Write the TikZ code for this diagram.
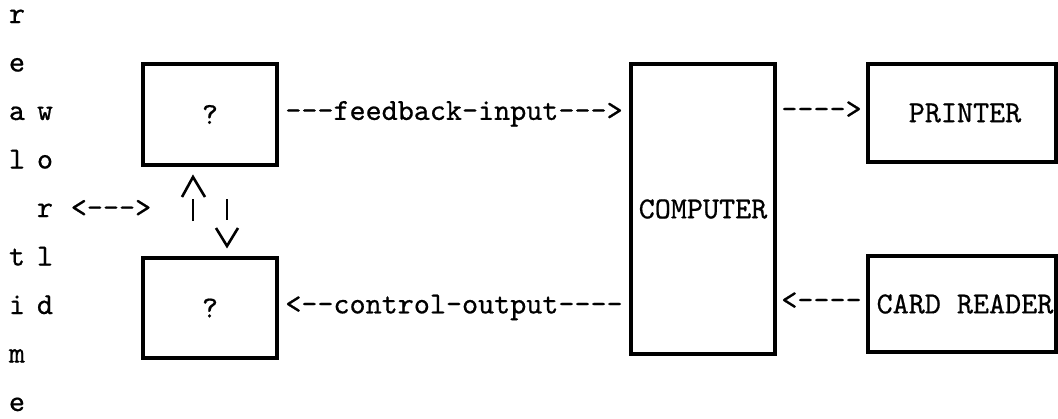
\documentclass[tikz,border=0pt]{standalone}
\usepackage{fontspec}
\setmonofont{lmmono10-regular.otf}[FakeBold=0.6]
\usetikzlibrary{calc}

% typewriter face used for every label (Latin Modern Mono)
\newcommand\twface{\ttfamily\fontsize{15.3}{18}\selectfont}

\tikzset{
  unit/.style={draw, rectangle, line width=2pt, inner sep=0pt, font=\twface},
  typed/.style={inner sep=0pt, font=\twface, text height=0.54em, text depth=0pt},
  glyph/.style={inner sep=0pt, font=\twface, anchor=base},
  shaft/.style={line width=1.3pt, line join=miter},
}

\begin{document}
\begin{tikzpicture}[x=0.5pt, y=-0.5pt]
  \useasboundingbox (0,0) rectangle (1058,418);

  % vertical "real time" / "world" lettering
  \foreach \ch/\row in {r/0, e/1, a/2, l/3, t/5, i/6, m/7, e/8}
    \node[glyph] at (17, 23+48.5*\row) {\ch};
  \foreach \ch/\row in {w/2, o/3, r/4, l/5, d/6}
    \node[glyph] at (45, 23+48.5*\row) {\ch};
  \node[glyph] (world) at (111, 217) {<--->};

  % units
  \node[unit, minimum width=67pt, minimum height=50.5pt] (q1) at (210,114.5) {?};
  \node[unit, minimum width=67pt, minimum height=50pt] (q2) at (210,308) {?};
  \node[unit, minimum width=72pt, minimum height=145pt] (comp) at (703,209) {COMPUTER};
  \node[unit, minimum width=94pt, minimum height=49pt] (pr) at (962,113) {\hspace*{3pt}PRINTER};
  \node[unit, minimum width=94pt, minimum height=48pt] (cr) at (962,304) {\hspace*{3pt}CARD READER};

  % typed connectors
  \node[typed] (fb) at ($(q1.east)!0.5!(comp.west |- q1.east)$) {---feedback-input--->};
  \node[typed] (co) at ($(q2.east)!0.5!(comp.west |- q2.east)$) {<--control-output----};
  \node[typed] (toprn) at ($(comp.east |- pr.west)!0.5!(pr.west)$) {---->};
  \node[typed] (fromcr) at ($(comp.east |- cr.west)!0.5!(cr.west)$) {<----};

  % arrows between the two unknown units
  \draw[shaft] ($(q2.north)+(-17,-35)$) -- ($(q1.south)+(-17,32)$);
  \draw[shaft] ($(q1.south)+(-28,30)$) -- ($(q1.south)+(-17,10)$) -- ($(q1.south)+(-5,30)$);
  \draw[shaft] ($(q1.south)+(17,32)$) -- ($(q2.north)+(17,-36)$);
  \draw[shaft] ($(q2.north)+(6,-28)$) -- ($(q2.north)+(17,-10)$) -- ($(q2.north)+(28,-28)$);
\end{tikzpicture}
\end{document}
